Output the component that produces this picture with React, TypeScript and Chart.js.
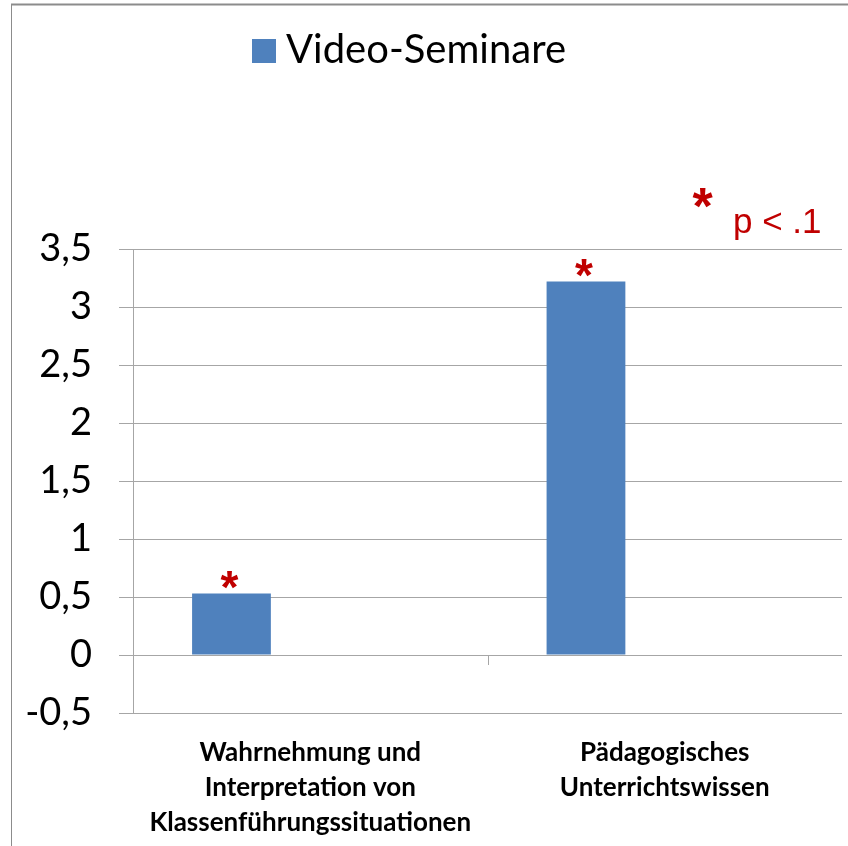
import React, { useEffect, useRef } from 'react';
import { Chart, registerables } from 'chart.js';

Chart.register(...registerables);

// ---- data ----
const categories: string[][] = [
  ['Wahrnehmung und', 'Interpretation von', 'Klassenführungssituationen'],
  ['Pädagogisches', 'Unterrichtswissen'],
];
const seriesName = 'Video-Seminare';
const videoSeminare: number[] = [0.53, 3.22];
const emptySeriesA: (number | null)[] = [null, null];
const emptySeriesB: (number | null)[] = [null, null];
const significanceMarks: string[] = ['*', '*'];
const yMin = -0.5;
const yMax = 3.5;
const yStep = 0.5;
const noteMark = '*';
const noteText = 'p < .1';

const BAR_COLOR = '#4F81BD';
const RED = '#C00000';
const GRID = '#A6A6A6';

function drawCenteredGlyph(ctx: CanvasRenderingContext2D, text: string, cx: number, cy: number) {
  const m = ctx.measureText(text);
  const asc = m.actualBoundingBoxAscent;
  const desc = m.actualBoundingBoxDescent;
  const left = m.actualBoundingBoxLeft;
  const right = m.actualBoundingBoxRight;
  const x = cx - (right - left) / 2;
  const y = cy + (asc - desc) / 2;
  ctx.fillText(text, x, y);
}

const decorPlugin = {
  id: 'decor',
  beforeDraw(chart: any) {
    const ctx = chart.ctx as CanvasRenderingContext2D;
    ctx.save();
    ctx.fillStyle = '#ffffff';
    ctx.fillRect(0, 0, chart.width, chart.height);
    ctx.strokeStyle = '#8C8C8C';
    ctx.lineWidth = 2;
    ctx.beginPath();
    ctx.moveTo(11, 4.5);
    ctx.lineTo(chart.width, 4.5);
    ctx.stroke();
    ctx.lineWidth = 1;
    ctx.beginPath();
    ctx.moveTo(11.5, 4);
    ctx.lineTo(11.5, chart.height);
    ctx.stroke();
    ctx.restore();
  },
  afterDraw(chart: any) {
    const ctx = chart.ctx as CanvasRenderingContext2D;
    const xs = chart.scales.x;
    const ys = chart.scales.y;
    ctx.save();
    // category divider tick on zero line
    const y0 = ys.getPixelForValue(0);
    const xb = (xs.getPixelForValue(0) + xs.getPixelForValue(1)) / 2;
    ctx.strokeStyle = GRID;
    ctx.lineWidth = 1;
    ctx.beginPath();
    ctx.moveTo(Math.round(xb) + 0.5, y0);
    ctx.lineTo(Math.round(xb) + 0.5, y0 + 10);
    ctx.stroke();

    // significance marks above bars
    const meta = chart.getDatasetMeta(0);
    ctx.fillStyle = RED;
    ctx.font = 'bold 46px "Liberation Sans"';
    meta.data.forEach((bar: any, i: number) => {
      const mark = significanceMarks[i];
      if (!mark) return;
      drawCenteredGlyph(ctx, mark, bar.x - 2, bar.y - 13.5);
    });

    // note
    ctx.font = 'bold 52px "Liberation Sans"';
    drawCenteredGlyph(ctx, noteMark, 703, 198);
    ctx.font = '35px "Liberation Sans"';
    ctx.textBaseline = 'alphabetic';
    ctx.fillText(noteText, 733, 233);

    // legend
    const ds = chart.data.datasets[0];
    ctx.fillStyle = ds.backgroundColor;
    ctx.fillRect(252, 39, 24, 24);
    ctx.fillStyle = '#000';
    ctx.font = '40px Lato';
    ctx.fillText(ds.label, 286, 63);
    ctx.restore();
  },
};

export default function App() {
  const ref = useRef<HTMLCanvasElement | null>(null);
  useEffect(() => {
    if (!ref.current) return;
    const common = { categoryPercentage: 3 / 4.5, barPercentage: 1 };
    const chart = new Chart(ref.current, {
      type: 'bar',
      data: {
        labels: categories as any,
        datasets: [
          { label: seriesName, data: videoSeminare, backgroundColor: BAR_COLOR, borderWidth: 0, ...common },
          { label: '', data: emptySeriesA as any, backgroundColor: 'rgba(0,0,0,0)', ...common },
          { label: '', data: emptySeriesB as any, backgroundColor: 'rgba(0,0,0,0)', ...common },
        ],
      },
      options: {
        responsive: false,
        animation: false,
        events: [],
        layout: { padding: { left: 0, top: 249, right: 6, bottom: 0 } },
        plugins: { legend: { display: false }, tooltip: { enabled: false } },
        scales: {
          x: {
            grid: { display: false, drawTicks: false },
            border: { display: false },
            ticks: {
              color: '#000',
              font: { family: 'Lato', size: 26, weight: 'bold', lineHeight: 1.35 },
              maxRotation: 0,
              autoSkip: false,
              padding: 22,
            },
            afterFit: (s: any) => {
              s.height = 133;
            },
          },
          y: {
            min: yMin,
            max: yMax,
            ticks: {
              stepSize: yStep,
              color: '#000',
              font: { family: 'Lato', size: 38 },
              padding: 27,
              callback: (v: any) => String(v).replace('.', ','),
            },
            grid: { color: GRID, lineWidth: 1, tickLength: 14 },
            border: { color: GRID, width: 1 },
            afterFit: (s: any) => {
              s.width = 133;
            },
          },
        },
      },
      plugins: [decorPlugin],
    });
    return () => chart.destroy();
  }, []);
  return (
    <div style={{ position: 'absolute', left: 0, top: 0, width: 848, height: 846 }}>
      <canvas ref={ref} width={848} height={846} style={{ display: 'block' }} />
    </div>
  );
}
